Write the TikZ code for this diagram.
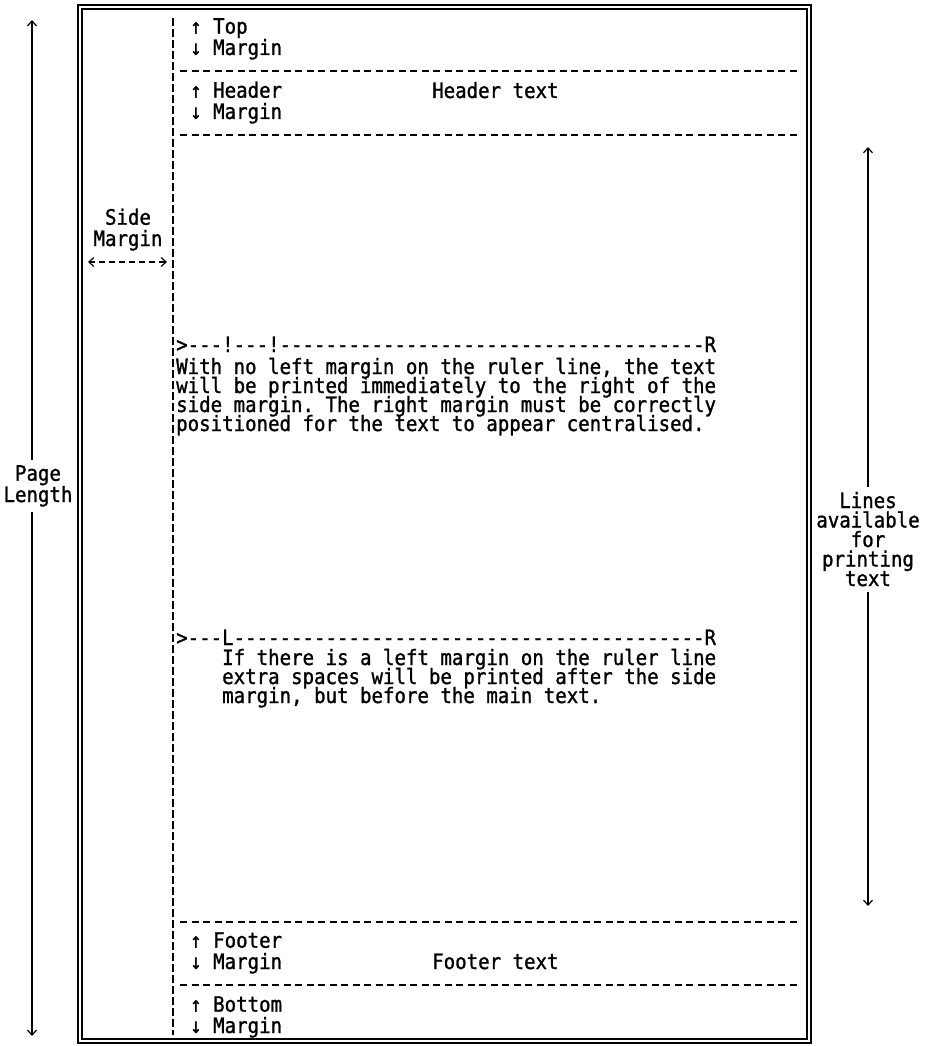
\documentclass[tikz,border=0pt]{standalone}
\usepackage{fontspec}
\setmonofont{DejaVu Sans Mono}[FakeStretch=0.9, FakeBold=1.2]
\usetikzlibrary{arrows.meta, positioning}
\newcommand\typeface[1]{\ttfamily\fontsize{21.2}{#1}\selectfont\lineskiplimit=-50pt\relax}

\begin{document}
\begin{tikzpicture}[x=1pt, y=-1pt,
    >={Straight Barb[length=5pt,width=9pt]},
    txt/.style={font=\typeface{19}, inner sep=0pt, anchor=base west, align=left},
    lbl/.style={txt, font=\typeface{21.3}},
    dimlabel/.style={txt, font=\typeface{19.5}, align=center, anchor=base, inner sep=5pt},
    sep/.style={line width=1.8pt, dash pattern=on 7pt off 4.5pt},
    gutter/.style={line width=1.3pt, dash pattern=on 8pt off 3pt},
    dim/.style={line width=1.2pt}
]
\useasboundingbox (0,0) rectangle (924,1046);

% Page outline (double rule)
\draw[line width=1.8pt] (78,5) rectangle (811,1043);
\draw[line width=1.1pt] (82,9) rectangle (807,1039);

% Side margin gutter and section rules
\draw[gutter] (173,18) -- (173,1035);
\draw[sep] (180,71) -- (800,71);
\draw[sep] (180,135) -- (800,135);
\draw[sep] (180,922) -- (800,922);
\draw[sep] (180,985) -- (800,985);

% Margin labels (anchored on the last line)
\node[lbl] (topm) at (190,55) {↑ Top\\↓ Margin};
\node[lbl] (headm) at (190,119) {↑ Header\\↓ Margin};
\node[txt] (headt) at (432,98) {Header text};
\node[lbl] (footm) at (190,969) {↑ Footer\\↓ Margin};
\node[txt] (foott) at (432,969) {Footer text};
\node[lbl] (botm) at (190,1033) {↑ Bottom\\↓ Margin};

% Side margin
\node[lbl, align=center, anchor=base] (sidem) at (128,246) {Side\\Margin};
\coordinate (sml) at (88,262);
\coordinate (smr) at (167,262);
\draw[dim, <->, dash pattern=on 6pt off 4pt] (sml) -- (smr);

% Ruler lines and text
\node[txt] (ruler1) at (176,352) {>---!---!-------------------------------------R};
\node[txt] (para1) at (176,431) {With no left margin on the ruler line, the text\\
will be printed immediately to the right of the\\
side margin. The right margin must be correctly\\
positioned for the text to appear centralised.};
\node[txt] (ruler2) at (176,645) {>---L-----------------------------------------R};
\node[txt] (para2) at (222,703) {If there is a left margin on the ruler line\\
extra spaces will be printed after the side\\
margin, but before the main text.};

% Page length
\node[lbl, align=center, anchor=base, inner sep=5pt] (pglen) at (38,502) {Page\\Length};
\coordinate (pltop) at (32,20);
\coordinate (plbot) at (32,1036);
\draw[dim, ->] (pltop |- pglen.north) -- (pltop);
\draw[dim, ->] (plbot |- pglen.south) -- (plbot);

% Printable lines
\node[dimlabel] (avail) at (868,586) {Lines\\available\\for\\printing\\text};
\coordinate (avtop) at (868,147);
\coordinate (avbot) at (868,906);
\draw[dim, ->] (avail.north) -- (avtop);
\draw[dim, ->] (avail.south) -- (avbot);

\end{tikzpicture}
\end{document}
